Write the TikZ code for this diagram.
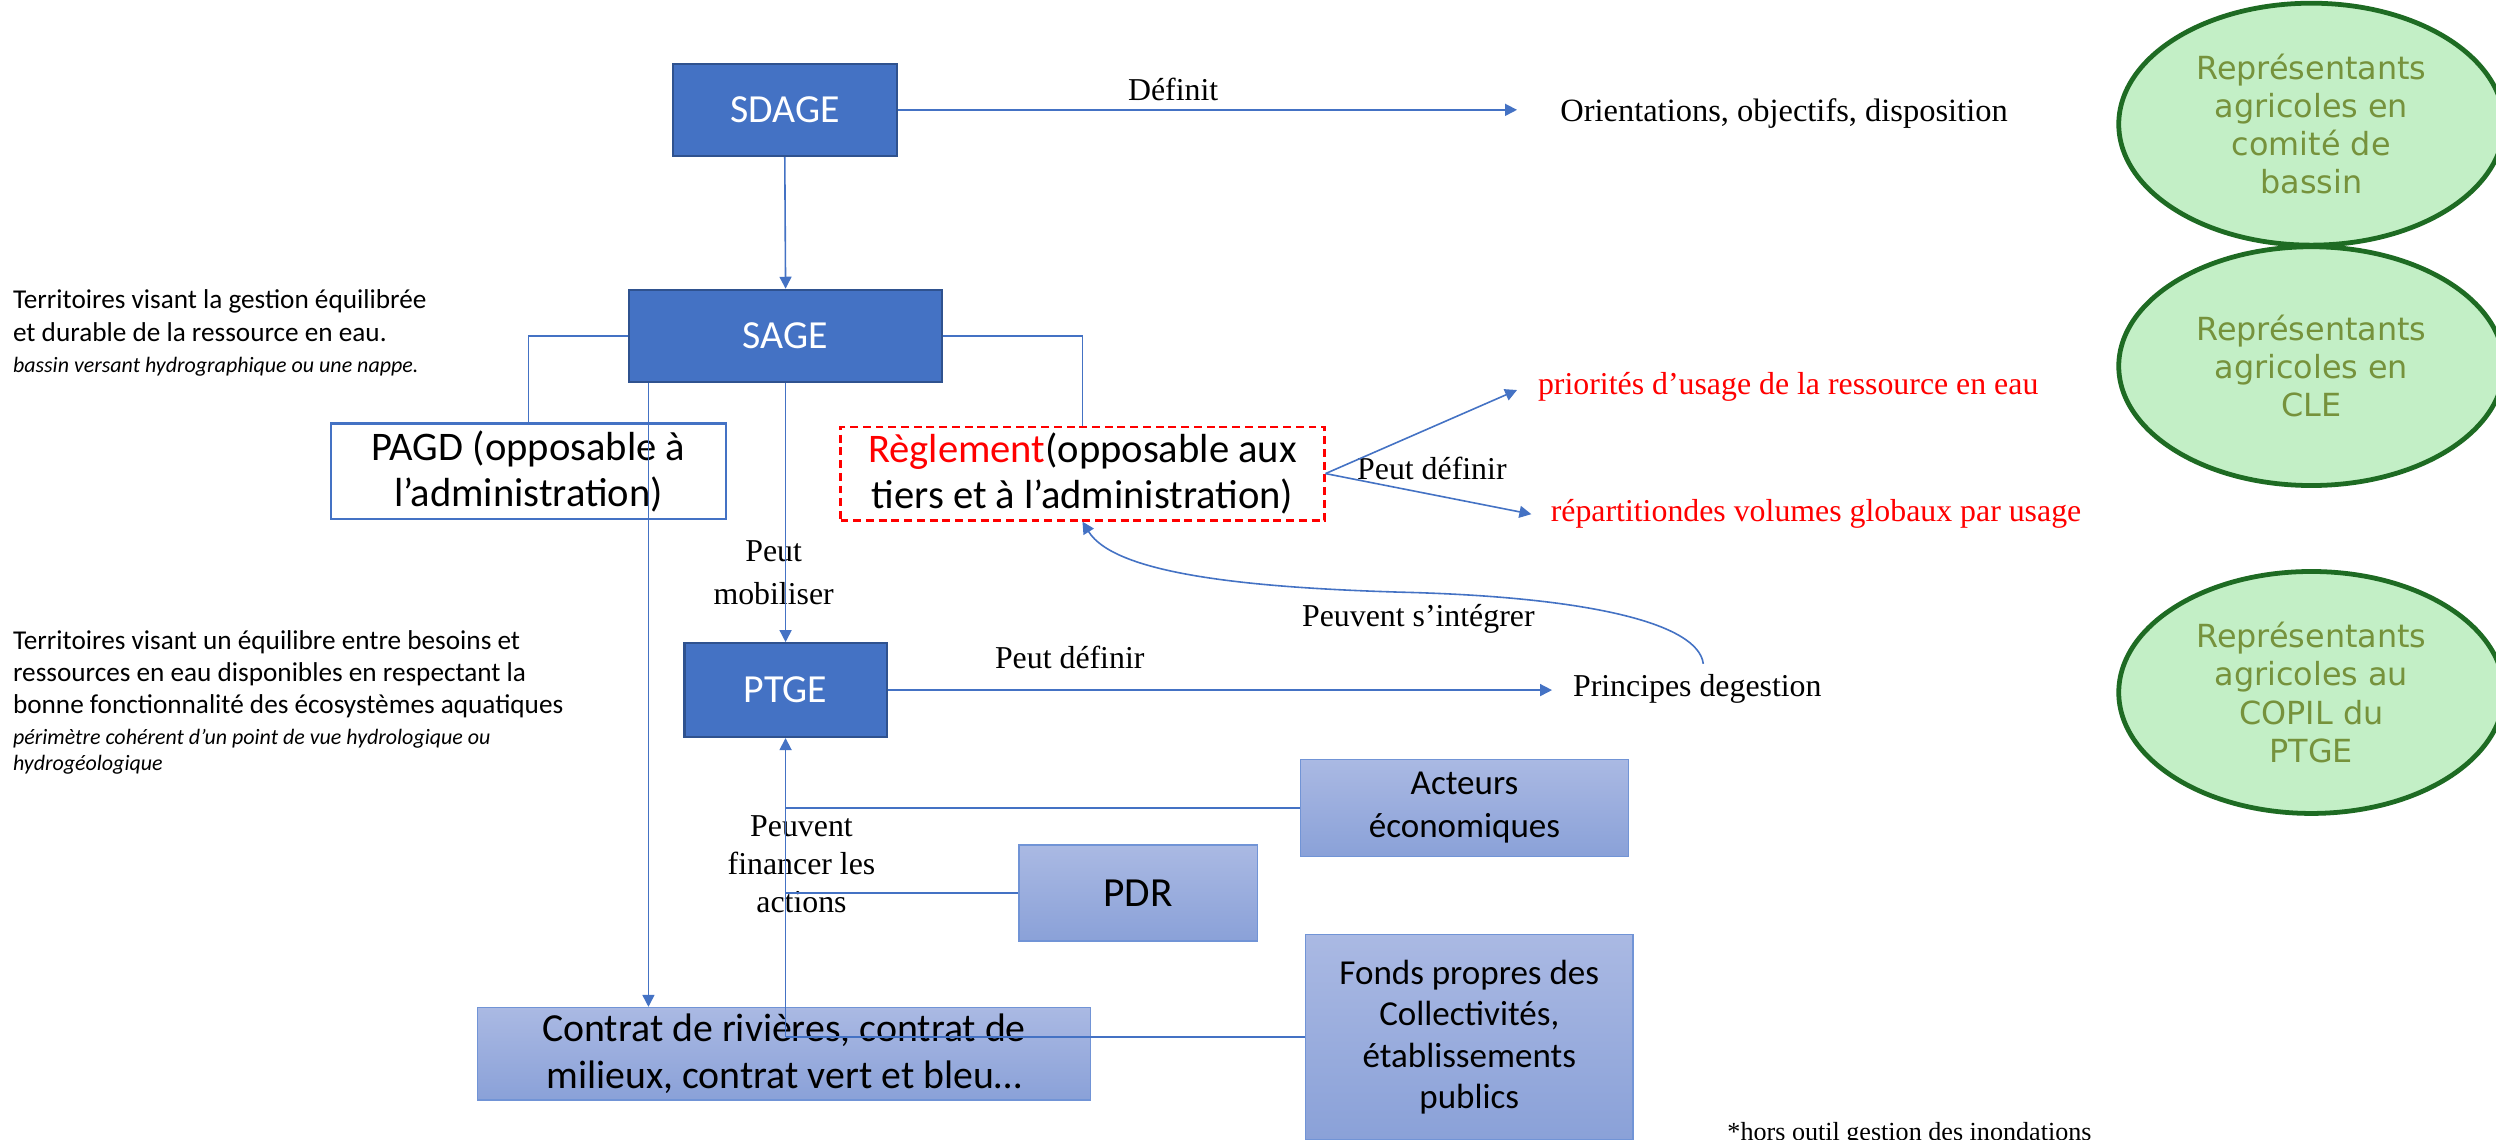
\documentclass[tikz,border=0pt]{standalone}
\usepackage{fontspec}
\setmainfont{Liberation Serif}
\newfontfamily\calfont{Carlito}
\newfontfamily\dvfont{DejaVu Sans}
\usetikzlibrary{arrows.meta,shapes.geometric}
\definecolor{boxblue}{HTML}{4472C4}
\definecolor{boxedge}{HTML}{2F528F}
\definecolor{lineblue}{HTML}{4472C4}
\definecolor{gradtop}{HTML}{AAB9E3}
\definecolor{gradbot}{HTML}{8AA1D8}
\definecolor{gradedge}{HTML}{7194D6}
\definecolor{ellfill}{HTML}{C3EFC6}
\definecolor{elledge}{HTML}{1E6B23}
\definecolor{olivetxt}{HTML}{76923C}
\definecolor{redtxt}{HTML}{FF0000}
\begin{document}
\begin{tikzpicture}[x=1pt,y=-1pt,
  conn/.style={draw=lineblue, line width=1pt},
  arr/.style={conn, -{Triangle[length=7.5pt,width=7.5pt]}},
  darkbox/.style={rectangle, fill=boxblue, draw=boxedge, line width=1.3pt, text=white,
    font=\calfont\fontsize{25}{29}\selectfont, inner sep=0pt},
  gradbox/.style={rectangle, top color=gradtop, bottom color=gradbot, draw=gradedge,
    line width=1pt, align=center, inner sep=0pt, text=black},
  pagdbox/.style={rectangle, fill=white, draw=boxblue, line width=1.5pt, align=center,
    inner sep=0pt, font=\calfont\fontsize{25.5}{29}\selectfont},
  reglbox/.style={rectangle, draw=redtxt, dashed, dash pattern=on 5pt off 3pt, line width=1.4pt,
    align=center, inner sep=0pt, font=\calfont\fontsize{25.5}{29}\selectfont},
  ell/.style={ellipse, fill=ellfill, draw=elledge, line width=3pt, inner sep=0pt,
    minimum width=242pt, minimum height=152pt, align=center, text=olivetxt,
    font=\dvfont\fontsize{20}{24}\selectfont},
  lbl/.style={inner sep=0pt, font=\fontsize{20}{24}\selectfont},
  redlbl/.style={lbl, text=redtxt},
  lt/.style={inner sep=0pt, anchor=mid west, font=\calfont\fontsize{17.1}{20}\selectfont},
  lti/.style={inner sep=0pt, anchor=mid west, font=\calfont\itshape\fontsize{13.8}{16}\selectfont}
]
\useasboundingbox (0,0) rectangle (1568,716);
\clip (0,0) rectangle (1568,716);
\fill[white] (0,0) rectangle (1568,716);

% boxes
\node[darkbox, minimum width=141pt, minimum height=58pt] (sdage) at (493,69) {SDAGE};
\node[darkbox, minimum width=197pt, minimum height=58pt] (sage) at (493.5,211) {SAGE};
\node[darkbox, minimum width=127pt, minimum height=59pt] (ptge) at (493.5,433.5) {PTGE};
\node[pagdbox, minimum width=248pt, minimum height=60pt] (pagd) at (332,296) {PAGD (opposable à\\l’administration)};
\node[reglbox, minimum width=304pt, minimum height=59pt] (regl) at (680,297.5) {\textcolor{redtxt}{Règlement}(opposable aux\\tiers et à l’administration)};
\node[gradbox, font=\calfont\fontsize{25}{30}\selectfont, minimum width=385pt, minimum height=58pt] (contrat) at (492.5,662) {Contrat de rivières, contrat de\\milieux, contrat vert et bleu…};
\node[gradbox, font=\calfont\fontsize{22}{27}\selectfont, minimum width=206pt, minimum height=61pt] (acteurs) at (920,507.5) {Acteurs\\économiques};
\node[gradbox, font=\calfont\fontsize{26}{30}\selectfont, minimum width=150pt, minimum height=60pt] (pdr) at (715,561) {PDR};
\node[gradbox, font=\calfont\fontsize{22}{26}\selectfont, minimum width=206pt, minimum height=129pt] (fonds) at (923,651.5) {Fonds propres des\\Collectivités,\\établissements\\publics};

% ellipses
\node[ell] (e1) at (1452,78) {Représentants\\agricoles en\\comité de\\bassin};
\node[ell, minimum height=150pt] (e2) at (1452,230) {Représentants\\agricoles en\\CLE};
\node[ell] (e3) at (1452,435) {Représentants\\agricoles au\\COPIL du\\PTGE};

% text labels
\node[lbl, anchor=west, font=\fontsize{20.4}{24}\selectfont] (orient) at (980,71) {Orientations, objectifs, disposition};
\node[lbl] (definit) at (737,56) {Définit};
\node[lbl, align=center, font=\fontsize{20}{27}\selectfont] (mobil) at (486,360) {Peut\\mobiliser};
\node[lbl, anchor=west] (princ) at (988,433) {Principes degestion};
\node[lbl] (pdef1) at (672,413) {Peut définir};
\node[lbl] (integ) at (891,389) {Peuvent s’intégrer};
\node[lbl] (pdef2) at (899.5,294) {Peut définir};
\node[redlbl, anchor=west] (prio) at (966,243) {priorités d'usage de la ressource en eau};
\node[redlbl, anchor=west] (repart) at (974,323) {répartitiondes volumes globaux par usage};
\node[lbl, align=center] (financ) at (503.5,543) {Peuvent\\financer les\\actions};
\node[lbl, anchor=base west, font=\fontsize{16.4}{19}\selectfont] (note) at (1085,716.5) {*hors outil gestion des inondations};

% left descriptions
\node[lt] (t1a) at (8,191.5) {Territoires visant la gestion équilibrée};
\node[lt] (t1b) at (8,212) {et durable de la ressource en eau.};
\node[lti] (t1c) at (8,231.5) {bassin versant hydrographique ou une nappe.};
\node[lt] (t2a) at (8,405.6) {Territoires visant un équilibre entre besoins et};
\node[lt] (t2b) at (8,426) {ressources en eau disponibles en respectant la};
\node[lt] (t2c) at (8,445.7) {bonne fonctionnalité des écosystèmes aquatiques};
\node[lti] (t2d) at (8,465.5) {périmètre cohérent d’un point de vue hydrologique ou};
\node[lti] (t2e) at (8,481.7) {hydrogéologique};

% helper coordinates
\coordinate (otip) at ([xshift=-27pt]orient.west);
\coordinate (ptip) at ([xshift=-13pt]princ.west);
\coordinate (priotip) at ([xshift=-13pt,yshift=-2pt]prio.west);
\coordinate (reptip) at ([xshift=-12pt]repart.west);
\coordinate (lft) at ([xshift=13pt]sage.south west);
\coordinate (curvestart) at (1070,417);

% connectors
\draw[arr] (sdage.east) -- (otip |- sdage.east);
\draw[arr] (sdage.south) -- (sage.north);
\draw[conn] (sage.west) -| (pagd.north);
\draw[conn] (sage.east) -| (regl.north);
\draw[arr] (lft) -- (lft |- contrat.north);
\draw[arr] (sage.south) -- (ptge.north);
\draw[arr] (ptge.east) -- (ptip |- ptge.east);
\draw[arr] (curvestart) .. controls (1067,392) and (1000,375) .. (880,372)
  .. controls (780,369) and (700,360) .. (regl.south);
\draw[arr] (regl.east) -- (priotip);
\draw[arr] (regl.east) -- (reptip);
\draw[arr] (ptge.south |- fonds.west) -- (ptge.south);
\draw[conn] (acteurs.west) -- (acteurs.west -| ptge.south);
\draw[conn] (pdr.west) -- (pdr.west -| ptge.south);
\draw[conn] (fonds.west) -- (fonds.west -| ptge.south);
\end{tikzpicture}
\end{document}
